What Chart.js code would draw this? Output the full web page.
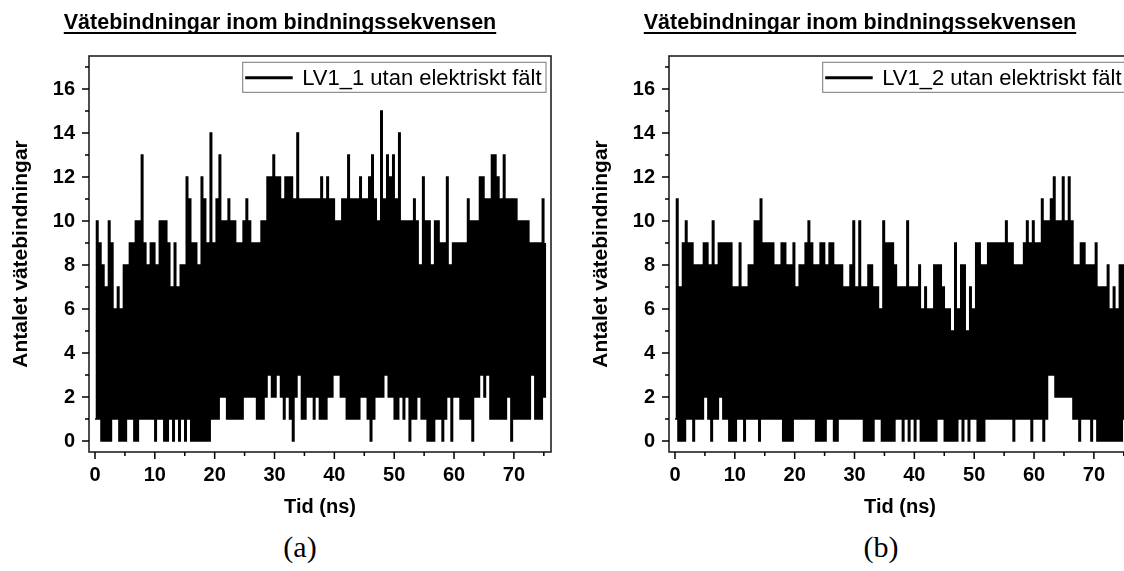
<!DOCTYPE html>
<html>
<head>
<meta charset="utf-8">
<script src="https://cdn.jsdelivr.net/npm/chart.js@4.4.0/dist/chart.umd.min.js"></script>
<style>
  html, body { margin: 0; padding: 0; background: #fff; }
  body { width: 1124px; height: 571px; overflow: hidden; position: relative; }
  .panel { position: absolute; top: 0; width: 560px; height: 520px; }
  .caption { position: absolute; top: 530px; width: 100px; text-align: center;
             font-family: "Liberation Serif", "DejaVu Serif", serif; font-size: 30px; color: #000; }
</style>
</head>
<body>
<div class="panel" style="left:0"><canvas id="chartA" width="560" height="520"></canvas></div>
<div class="panel" style="left:580px"><canvas id="chartB" width="560" height="520"></canvas></div>
<div class="caption" style="left:250px">(a)</div>
<div class="caption" style="left:831px">(b)</div>
<script>
// sampled every 0.5 ns: lowest and highest count seen in each slot
const tStart = 0;
const tStep = 0.5;

const lowsA = [
  1,1,0,0,0,0,1,1,0,0,
  0,1,1,0,0,1,1,1,1,1,
  0,1,1,0,0,1,0,1,0,1,
  0,1,0,0,0,0,0,0,0,1,
  1,1,2,2,1,1,1,1,1,1,
  2,2,2,2,1,1,1,2,3,2,
  2,3,2,1,2,1,0,2,3,1,
  1,2,2,1,2,1,1,1,2,2,
  3,3,2,2,1,1,1,1,1,2,
  2,1,0,1,2,2,2,3,2,2,
  1,1,2,1,2,0,1,1,2,1,
  1,0,0,0,1,1,0,1,2,0,
  2,2,1,1,1,1,0,2,2,3,
  2,3,1,1,1,1,1,1,2,0,
  1,1,1,1,1,1,3,1,1,1,
  2
];
const highsA = [
  10,9,8,7,10,9,6,7,6,8,
  8,9,9,10,10,13,9,8,9,9,
  8,10,10,10,9,7,9,7,8,8,
  12,11,9,9,8,12,11,9,14,9,
  11,13,10,10,11,10,10,9,9,10,
  11,10,9,9,9,10,10,12,12,13,
  12,12,11,12,12,12,11,14,11,11,
  11,11,11,11,11,12,11,12,11,11,
  10,10,11,11,13,11,11,11,12,11,
  11,12,13,11,10,15,11,13,12,13,
  11,14,10,10,10,10,11,10,8,12,
  10,10,8,10,10,9,9,12,8,9,
  9,9,9,9,11,10,10,10,12,12,
  11,11,13,13,12,11,13,11,11,11,
  11,10,10,10,10,9,9,9,9,11,
  9
];

const lowsB = [
  1,0,0,0,1,1,0,1,1,1,
  2,1,0,1,1,2,1,1,0,0,
  0,1,1,0,1,1,1,1,0,1,
  1,1,1,1,1,1,0,0,0,0,
  1,1,1,1,1,1,1,0,0,0,
  0,1,1,0,0,1,1,1,1,1,
  1,1,1,0,0,0,0,1,1,0,
  0,0,0,0,1,1,0,1,0,1,
  0,1,0,0,0,0,0,0,1,1,
  0,0,0,0,0,1,0,1,0,1,
  1,0,0,0,1,1,1,1,1,1,
  1,1,1,0,1,1,1,1,1,0,
  1,1,1,0,1,3,3,2,2,2,
  2,2,2,1,1,0,1,1,1,0,
  1,0,0,0,0,0,0,0,0,0,
  1
];
const highsB = [
  11,7,9,10,9,9,8,8,8,9,
  9,8,10,8,9,9,9,9,9,7,
  7,9,7,7,8,8,10,10,11,9,
  9,9,9,8,8,9,9,8,8,9,
  7,8,8,9,10,9,8,8,9,9,
  8,9,9,8,8,8,7,7,8,10,
  7,10,7,7,8,8,7,7,6,10,
  9,9,9,8,7,7,7,10,7,7,
  7,8,6,7,6,6,8,8,8,7,
  6,6,5,9,6,8,8,5,7,6,
  9,9,8,8,9,9,9,9,9,9,
  10,9,9,8,8,8,9,10,9,10,
  9,9,11,10,10,11,12,10,10,12,
  10,12,10,8,8,9,9,8,8,8,
  9,7,7,7,8,6,7,6,8,8,
  7
];

const xTicks = [0, 10, 20, 30, 40, 50, 60, 70];
const xMinorTicks = [5, 15, 25, 35, 45, 55, 65, 75];
const yTicks = [0, 2, 4, 6, 8, 10, 12, 14, 16];
const yMinorTicks = [1, 3, 5, 7, 9, 11, 13, 15, 17];

const chartTitle = 'Vätebindningar inom bindningssekvensen';
const xTitle = 'Tid (ns)';
const yTitle = 'Antalet vätebindningar';

const FONT = '"Liberation Sans", Arial, sans-serif';

// low then high inside every slot, drawn as steps
function buildPoints(lows, highs) {
  const pts = [];
  for (let i = 0; i < lows.length; i++) {
    const t = tStart + i * tStep;
    pts.push({ x: t, y: lows[i] });
    pts.push({ x: t + tStep / 2, y: highs[i] });
  }
  return pts;
}

const framePlugin = {
  id: 'frame',
  afterDraw(chart) {
    const ctx = chart.ctx;
    const { left, right, top, bottom } = chart.chartArea;
    const xs = chart.scales.x;
    const ys = chart.scales.y;
    ctx.save();

    // box around the plot
    ctx.strokeStyle = '#222';
    ctx.lineWidth = 1.6;
    ctx.strokeRect(left, top, right - left, bottom - top);

    // tick marks, outward
    ctx.strokeStyle = '#000';
    ctx.lineWidth = 1.5;
    ctx.beginPath();
    xTicks.forEach(v => { const p = xs.getPixelForValue(v); ctx.moveTo(p, bottom); ctx.lineTo(p, bottom + 7); });
    xMinorTicks.forEach(v => { const p = xs.getPixelForValue(v); ctx.moveTo(p, bottom); ctx.lineTo(p, bottom + 4); });
    yTicks.forEach(v => { const p = ys.getPixelForValue(v); ctx.moveTo(left, p); ctx.lineTo(left - 7, p); });
    yMinorTicks.forEach(v => { const p = ys.getPixelForValue(v); ctx.moveTo(left, p); ctx.lineTo(left - 4, p); });
    ctx.stroke();

    // underlined title
    ctx.fillStyle = '#000';
    ctx.font = 'bold 21.5px ' + FONT;
    ctx.textAlign = 'center';
    ctx.textBaseline = 'alphabetic';
    const cx = chart.width / 2;
    ctx.fillText(chartTitle, cx, 29);
    const tw = ctx.measureText(chartTitle).width;
    ctx.fillRect(cx - tw / 2, 32, tw, 2);

    // legend box in the upper right corner
    const label = chart.data.datasets[0].label;
    ctx.font = '22px ' + FONT;
    ctx.textAlign = 'left';
    const lw = ctx.measureText(label).width;
    const boxRight = right - 5;
    const boxTop = top + 6.3;
    const textX = boxRight - 4.5 - lw;
    const boxLeft = textX - 59.5;
    ctx.strokeStyle = '#777';
    ctx.lineWidth = 1;
    ctx.strokeRect(boxLeft, boxTop, boxRight - boxLeft, 30);
    ctx.strokeStyle = '#000';
    ctx.lineWidth = 3;
    ctx.beginPath();
    ctx.moveTo(textX - 57, boxTop + 15.4);
    ctx.lineTo(textX - 9.5, boxTop + 15.4);
    ctx.stroke();
    ctx.fillText(label, textX, boxTop + 22.7);

    ctx.restore();
  }
};

function makeChart(id, label, lows, highs) {
  const tickFont = { family: FONT, size: 20, weight: 'bold' };
  const titleFont = { family: FONT, size: 21, weight: 'bold' };
  return new Chart(document.getElementById(id), {
    type: 'line',
    data: {
      datasets: [{
        label: label,
        data: buildPoints(lows, highs),
        borderColor: '#000',
        borderWidth: 1.5,
        pointRadius: 0,
        stepped: true,
        fill: false,
      }],
    },
    options: {
      responsive: false,
      animation: false,
      events: [],
      layout: { padding: { left: 0, top: 56, right: 9, bottom: 0 } },
      plugins: { legend: { display: false }, tooltip: { enabled: false } },
      scales: {
        x: {
          type: 'linear',
          min: -1,
          max: 76.2,
          afterBuildTicks: s => { s.ticks = xTicks.map(v => ({ value: v })); },
          afterFit: s => { s.height = 68; },
          grid: { display: false, drawTicks: false },
          border: { display: false },
          ticks: { font: tickFont, color: '#000', padding: 11, maxRotation: 0, autoSkip: false },
          title: { display: true, text: xTitle, font: tickFont, color: '#000', padding: { top: 0, bottom: 1 } },
        },
        y: {
          type: 'linear',
          min: -0.5,
          max: 17.5,
          afterBuildTicks: s => { s.ticks = yTicks.map(v => ({ value: v })); },
          afterFit: s => { s.width = 89; },
          grid: { display: false, drawTicks: false },
          border: { display: false },
          ticks: { font: tickFont, color: '#000', padding: 14, autoSkip: false },
          title: { display: true, text: yTitle, font: titleFont, color: '#000', padding: { top: 9, bottom: 0 } },
        },
      },
    },
    plugins: [framePlugin],
  });
}

makeChart('chartA', 'LV1_1 utan elektriskt fält', lowsA, highsA);
makeChart('chartB', 'LV1_2 utan elektriskt fält', lowsB, highsB);
</script>
</body>
</html>
